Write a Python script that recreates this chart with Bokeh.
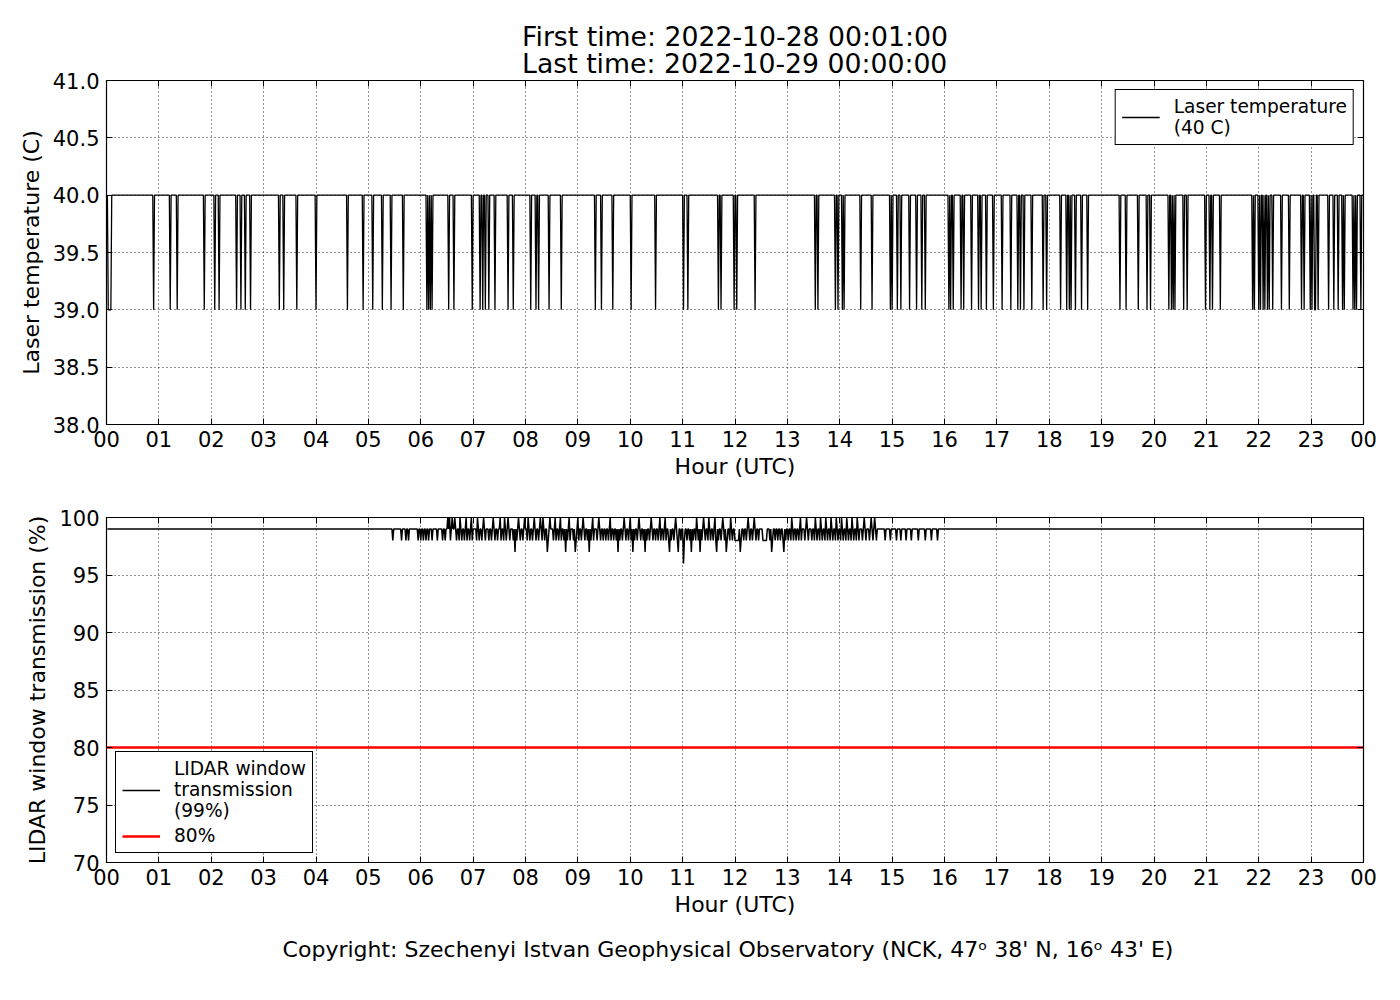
import numpy as np
from bokeh.plotting import figure
from bokeh.models import Range1d, FixedTicker, LinearAxis, Title, Legend, LegendItem
from bokeh.layouts import column
from bokeh.embed import file_html
from bokeh.resources import INLINE

# ---------------- data ----------------
minutes = list(range(1, 1441))          # 00:01 ... 24:00 (next day 00:00)

# Laser temperature: 40 C nominal, drops to 39 C at these minutes of the day
laser_nominal = 40.0
laser_low = 39.0
laser_drop_minutes = [
    2, 3, 4, 5, 54, 73, 81, 112, 124, 129, 149, 154, 159, 165, 198, 203, 218, 240,
    276, 294, 305, 316, 326, 340, 367, 369, 371, 373, 392, 398, 419, 428, 431, 434,
    438, 445, 460, 466, 486, 492, 495, 507, 521, 560, 567, 580, 601, 629, 661, 666,
    701, 704, 719, 722, 743, 812, 815, 835, 838, 843, 845, 864, 877, 898, 900, 906,
    910, 920, 928, 934, 938, 965, 967, 970, 979, 982, 991, 999, 1002, 1008, 1016,
    1026, 1036, 1044, 1047, 1051, 1060, 1073, 1077, 1093, 1100, 1103, 1105, 1110,
    1117, 1124, 1161, 1168, 1182, 1192, 1196, 1217, 1220, 1222, 1224, 1234, 1238,
    1259, 1264, 1267, 1276, 1313, 1315, 1320, 1322, 1325, 1327, 1330, 1332, 1336,
    1346, 1355, 1369, 1372, 1379, 1381, 1384, 1385, 1388, 1400, 1406, 1411, 1416,
    1418, 1428, 1430, 1432, 1437,
]

# LIDAR window transmission: 99 % nominal, deviations at these minutes
lidar_nominal = 99.0
lidar_98_minutes = [
    328, 338, 343, 346, 357, 360, 363, 366, 369, 373, 379, 385, 388, 394, 401, 404,
    407, 410, 413, 416, 419, 424, 427, 430, 434, 438, 441, 445, 448, 452, 455, 458,
    462, 466, 470, 474, 477, 482, 485, 488, 492, 495, 499, 502, 506, 512, 515, 518,
    521, 524, 528, 531, 535, 538, 541, 544, 548, 551, 555, 558, 562, 566, 569, 572,
    575, 578, 581, 584, 588, 591, 595, 598, 601, 605, 608, 612, 615, 619, 622, 626,
    629, 632, 635, 638, 641, 644, 647, 650, 654, 658, 662, 665, 668, 672, 675, 678,
    682, 686, 689, 692, 695, 698, 701, 704, 708, 711, 714, 717, 720, 721, 722, 723,
    724, 727, 730, 733, 737, 740, 744, 747, 752, 753, 754, 755, 756, 760, 763, 766,
    769, 772, 775, 778, 781, 784, 787, 790, 793, 796, 800, 804, 808, 811, 814, 817,
    820, 823, 826, 829, 832, 835, 838, 841, 844, 847, 850, 853, 856, 859, 862, 866,
    870, 874, 878, 882, 892, 898, 905, 910, 916, 922, 930, 938, 945, 952,
]
lidar_97_minutes = [468, 505, 526, 537, 553, 586, 603, 617, 645, 655, 670, 680, 699,
                    710, 726, 762, 776]
lidar_96_minutes = [661]
lidar_100_minutes = [
    391, 393, 396, 399, 405, 412, 418, 425, 432, 443, 451, 456, 460, 472, 479, 483,
    490, 497, 500, 508, 514, 520, 530, 540, 546, 557, 564, 577, 593, 600, 610, 624,
    634, 640, 652, 676, 684, 690, 697, 706, 715, 735, 742, 785, 795, 802, 812, 818,
    824, 830, 836, 842, 848, 854, 860, 868, 876, 880,
]
threshold_level = 80.0

hour_ticks = list(range(0, 25))
hour_labels = ["%02d" % (h % 24) for h in hour_ticks]
temp_ticks = [38.0, 38.5, 39.0, 39.5, 40.0, 40.5, 41.0]
trans_ticks = [70, 75, 80, 85, 90, 95, 100]

title_line1 = "First time: 2022-10-28 00:01:00"
title_line2 = "Last time: 2022-10-29 00:00:00"
copyright_text = "Copyright: Szechenyi Istvan Geophysical Observatory (NCK, 47\u1d52  38' N, 16\u1d52  43' E)"

# ---------------- build series ----------------
hours = np.array(minutes, dtype=float) / 60.0
laser = np.full(len(minutes), laser_nominal)
for m in laser_drop_minutes:
    laser[m - 1] = laser_low
lidar = np.full(len(minutes), lidar_nominal)
for lst, v in ((lidar_98_minutes, 98.0), (lidar_97_minutes, 97.0),
               (lidar_96_minutes, 96.0), (lidar_100_minutes, 100.0)):
    for m in lst:
        lidar[m - 1] = v

FONT = "DejaVu Sans"
TICK_FS = "21px"
LABEL_FS = "22px"


def style(p, yticks, ylabel, yfmt):
    p.background_fill_color = "white"
    p.border_fill_color = "white"
    p.outline_line_color = "black"
    p.outline_line_width = 1.2
    p.outline_line_alpha = 1.0
    xa = p.xaxis[0]
    ya = p.yaxis[0]
    xa.ticker = FixedTicker(ticks=hour_ticks)
    xa.major_label_overrides = {t: l for t, l in zip(hour_ticks, hour_labels)}
    ya.ticker = FixedTicker(ticks=yticks)
    ya.major_label_overrides = {t: (yfmt % t) for t in yticks}
    for ax in (xa, ya):
        ax.major_label_text_font = FONT
        ax.major_label_text_font_size = TICK_FS
        ax.major_label_text_color = "black"
        ax.axis_label_text_font = FONT
        ax.axis_label_text_font_size = LABEL_FS
        ax.axis_label_text_font_style = "normal"
        ax.axis_label_text_color = "black"
        ax.major_tick_in = 6
        ax.major_tick_out = 0
        ax.minor_tick_line_color = None
        ax.axis_line_color = None
        ax.major_tick_line_color = "black"
    xa.major_label_standoff = 6
    ya.major_label_standoff = 7
    xa.axis_label = "Hour (UTC)"
    xa.axis_label_standoff = 4
    ya.axis_label = ylabel
    ya.axis_label_standoff = 6
    # mirrored ticks on top and right
    top = LinearAxis(ticker=FixedTicker(ticks=hour_ticks), major_label_text_font_size="0px",
                     major_label_text_alpha=0, major_tick_in=6, major_tick_out=0,
                     axis_line_color=None, minor_tick_line_color=None,
                     major_label_standoff=0, major_tick_line_color="black")
    right = LinearAxis(ticker=FixedTicker(ticks=yticks), major_label_text_font_size="0px",
                       major_label_text_alpha=0, major_tick_in=6, major_tick_out=0,
                       axis_line_color=None, minor_tick_line_color=None,
                       major_label_standoff=0, major_tick_line_color="black")
    p.add_layout(top, "above")
    p.add_layout(right, "right")
    p.xgrid.ticker = FixedTicker(ticks=hour_ticks)
    p.ygrid.ticker = FixedTicker(ticks=yticks)
    p.grid.grid_line_color = "black"
    p.grid.grid_line_dash = "1 3"
    p.grid.grid_line_width = 1
    p.grid.grid_line_alpha = 0.85


# ---------------- top figure ----------------
p1 = figure(width=1392, height=485, output_backend="svg", toolbar_location=None,
            x_range=Range1d(0, 24), y_range=Range1d(38, 41),
            min_border_left=106, min_border_right=29, min_border_top=80, min_border_bottom=61)
style(p1, temp_ticks, "Laser temperature (C)", "%.1f")
r1 = p1.line(hours, laser, line_color="black", line_width=1.3)
p1.add_layout(Title(text=title_line1 + "\n" + title_line2, align="center", text_font=FONT,
                    text_font_size="26.7px", text_font_style="normal", text_color="black",
                    standoff=3, text_line_height=0.88), "above")
leg1 = Legend(items=[LegendItem(label="Laser temperature\n(40 C)", renderers=[r1])],
              location="top_right")
p1.add_layout(leg1, "center")

# ---------------- bottom figure ----------------
p2 = figure(width=1392, height=507, output_backend="svg", toolbar_location=None,
            x_range=Range1d(0, 24), y_range=Range1d(70, 100),
            min_border_left=106, min_border_right=29, min_border_top=32, min_border_bottom=130)
style(p2, trans_ticks, "LIDAR window transmission (%)", "%d")
r2 = p2.line(hours, lidar, line_color="black", line_width=1.5)
r3 = p2.line([0, 24], [threshold_level, threshold_level], line_color="red", line_width=2.5)
leg2 = Legend(items=[LegendItem(label="LIDAR window\ntransmission\n(99%)", renderers=[r2]),
                     LegendItem(label="80%", renderers=[r3])],
              location="bottom_left")
p2.add_layout(leg2, "center")
p2.add_layout(Title(text=copyright_text, align="center", text_font=FONT, text_font_size="22px",
                    text_font_style="normal", text_color="black", standoff=30), "below")

for lg in (leg1, leg2):
    lg.label_text_font = FONT
    lg.label_text_font_size = "18.6px"
    lg.label_text_color = "black"
    lg.border_line_color = "black"
    lg.border_line_width = 1.2
    lg.border_line_alpha = 1.0
    lg.background_fill_color = "white"
    lg.background_fill_alpha = 1.0
    lg.glyph_width = 38
    lg.label_standoff = 14
    lg.margin = 9
    lg.padding = 6
    lg.spacing = 4

layout = column(p1, p2, spacing=0)
open("out.html", "w").write(file_html(layout, INLINE))
